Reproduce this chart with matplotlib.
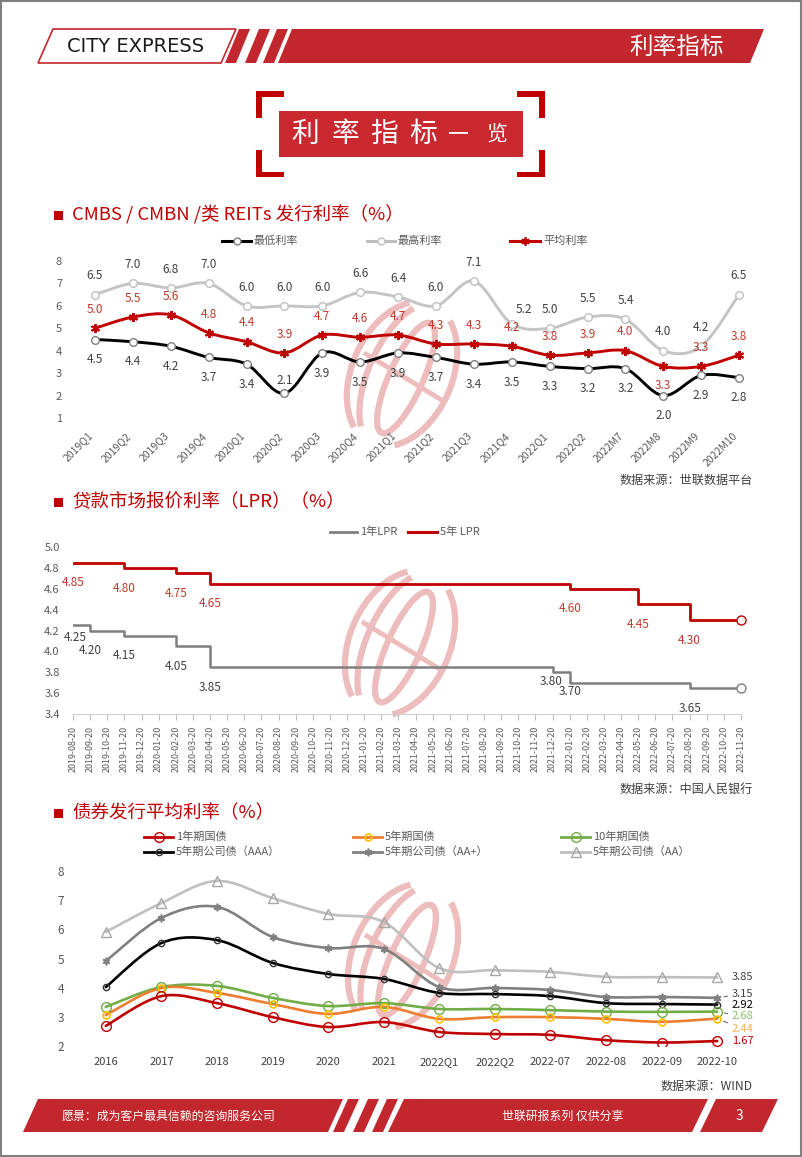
import matplotlib
matplotlib.use('Agg')
import matplotlib.pyplot as plt
import numpy as np
from matplotlib.path import Path
from matplotlib.patches import PathPatch, Polygon, Rectangle, Arc
from matplotlib.lines import Line2D
from matplotlib.ticker import FuncFormatter

plt.rcParams['font.family'] = ['Noto Sans CJK SC', 'DejaVu Sans']

# ---------------- data ----------------
# chart 1: CMBS / CMBN / REITs
cmbs_cats = ['2019Q1', '2019Q2', '2019Q3', '2019Q4', '2020Q1', '2020Q2', '2020Q3',
             '2020Q4', '2021Q1', '2021Q2', '2021Q3', '2021Q4', '2022Q1', '2022Q2',
             '2022M7', '2022M8', '2022M9', '2022M10']
cmbs_min = [4.5, 4.4, 4.2, 3.7, 3.4, 2.1, 3.9, 3.5, 3.9, 3.7, 3.4, 3.5, 3.3, 3.2, 3.2, 2.0, 2.9, 2.8]
cmbs_max = [6.5, 7.0, 6.8, 7.0, 6.0, 6.0, 6.0, 6.6, 6.4, 6.0, 7.1, 5.2, 5.0, 5.5, 5.4, 4.0, 4.2, 6.5]
cmbs_avg = [5.0, 5.5, 5.6, 4.8, 4.4, 3.9, 4.7, 4.6, 4.7, 4.3, 4.3, 4.2, 3.8, 3.9, 4.0, 3.3, 3.3, 3.8]

# chart 2: LPR
lpr_dates = ['2019-08-20', '2019-09-20', '2019-10-20', '2019-11-20', '2019-12-20',
             '2020-01-20', '2020-02-20', '2020-03-20', '2020-04-20', '2020-05-20',
             '2020-06-20', '2020-07-20', '2020-08-20', '2020-09-20', '2020-10-20',
             '2020-11-20', '2020-12-20', '2021-01-20', '2021-02-20', '2021-03-20',
             '2021-04-20', '2021-05-20', '2021-06-20', '2021-07-20', '2021-08-20',
             '2021-09-20', '2021-10-20', '2021-11-20', '2021-12-20', '2022-01-20',
             '2022-02-20', '2022-03-20', '2022-04-20', '2022-05-20', '2022-06-20',
             '2022-07-20', '2022-08-20', '2022-09-20', '2022-10-20', '2022-11-20']
lpr_1y = [4.25, 4.20, 4.20, 4.15, 4.15, 4.15, 4.05, 4.05, 3.85, 3.85,
          3.85, 3.85, 3.85, 3.85, 3.85, 3.85, 3.85, 3.85, 3.85, 3.85,
          3.85, 3.85, 3.85, 3.85, 3.85, 3.85, 3.85, 3.85, 3.80, 3.70,
          3.70, 3.70, 3.70, 3.70, 3.70, 3.70, 3.65, 3.65, 3.65, 3.65]
lpr_5y = [4.85, 4.85, 4.85, 4.80, 4.80, 4.80, 4.75, 4.75, 4.65, 4.65,
          4.65, 4.65, 4.65, 4.65, 4.65, 4.65, 4.65, 4.65, 4.65, 4.65,
          4.65, 4.65, 4.65, 4.65, 4.65, 4.65, 4.65, 4.65, 4.65, 4.60,
          4.60, 4.60, 4.60, 4.45, 4.45, 4.45, 4.30, 4.30, 4.30, 4.30]

# chart 3: bond issuance
bond_cats = ['2016', '2017', '2018', '2019', '2020', '2021', '2022Q1', '2022Q2',
             '2022-07', '2022-08', '2022-09', '2022-10']
gov_1y = [2.19, 3.21, 2.97, 2.49, 2.15, 2.32, 1.98, 1.91, 1.88, 1.70, 1.62, 1.67]
gov_5y = [2.56, 3.49, 3.32, 2.94, 2.60, 2.84, 2.43, 2.49, 2.49, 2.43, 2.33, 2.44]
gov_10y = [2.84, 3.52, 3.56, 3.15, 2.87, 2.97, 2.77, 2.77, 2.73, 2.68, 2.67, 2.68]
corp_aaa = [3.52, 5.03, 5.13, 4.35, 3.97, 3.80, 3.32, 3.28, 3.21, 2.97, 2.94, 2.92]
corp_aap = [4.41, 5.89, 6.27, 5.24, 4.86, 4.83, 3.52, 3.49, 3.42, 3.18, 3.18, 3.15]
corp_aa = [5.41, 6.40, 7.16, 6.57, 6.03, 5.75, 4.17, 4.10, 4.04, 3.87, 3.86, 3.85]

RED = '#C00000'
BAND = '#C1272D'
TXT = '#595959'


def smooth_path(x, y):
    # Excel-like smoothed line as cubic bezier through the points
    pts = np.column_stack([x, y]).astype(float)
    n = len(pts)
    verts = [pts[0]]
    codes = [Path.MOVETO]
    for i in range(n - 1):
        p0 = pts[i - 1] if i > 0 else pts[i]
        p1 = pts[i]
        p2 = pts[i + 1]
        p3 = pts[i + 2] if i + 2 < n else pts[i + 1]
        verts += [p1 + (p2 - p0) / 6, p2 - (p3 - p1) / 6, p2]
        codes += [Path.CURVE4] * 3
    return Path(verts, codes)


def smooth_line(ax, x, y, color, lw):
    ax.add_patch(PathPatch(smooth_path(x, y), fill=False, edgecolor=color, lw=lw,
                           capstyle='round', joinstyle='round', zorder=2))


W, H = 802, 1157
fig = plt.figure(figsize=(W / 100, H / 100), dpi=100)

page = fig.add_axes([0, 0, 1, 1])
page.set_xlim(0, W)
page.set_ylim(H, 0)
page.axis('off')


def box(l, t, r, b):
    return [l / W, 1 - b / H, (r - l) / W, (b - t) / H]


def para(x0, x1, top, bot, slant, color, **kw):
    page.add_patch(Polygon([(x0 + slant, top), (x1 + slant, top), (x1, bot), (x0, bot)],
                           closed=True, facecolor=color, **kw))


# page border
page.add_patch(Rectangle((0.8, 0.8), W - 1.6, H - 1.6, fill=False, edgecolor='#808080', lw=1.5))

# header
para(38, 221, 29, 63, 15, 'white', edgecolor=BAND, lw=1.2)
page.text(136, 47, 'CITY EXPRESS', ha='center', va='center', fontsize=14,
          family=['Liberation Sans Narrow', 'DejaVu Sans'], color='#1a1a1a')
for xs in [225, 245, 263]:
    para(xs, xs + 11, 29, 63, 14, BAND, lw=0)
para(278, 750, 29, 63, 14, BAND, lw=0)
page.text(677, 47, '利率指标', ha='center', va='center', fontsize=17, color='white')

# title box with brackets
page.add_patch(Rectangle((279, 111), 244, 46, facecolor='#C8282E', lw=0))
for xc, dx in [(256, 1), (545, -1)]:
    for yc, dy in [(91, 1), (177, -1)]:
        page.add_patch(Rectangle((xc, yc), 28 * dx, 5.5 * dy, facecolor=RED, lw=0))
        page.add_patch(Rectangle((xc, yc), 6 * dx, 27 * dy, facecolor=RED, lw=0))
for ch, cx, fs in [('利', 305, 20), ('率', 345, 20), ('指', 384, 20), ('标', 423, 20),
                   ('一', 458, 15), ('览', 497, 15)]:
    page.text(cx, 134, ch, ha='center', va='center', fontsize=fs, color='white')


def logo(cx, cy):
    # pale globe watermark behind the charts
    kw = dict(color='#EDBDBD', lw=4.5, zorder=0.5, capstyle='butt')
    ang = 24
    page.add_patch(Arc((cx, cy), 100, 152, angle=ang, theta1=108, theta2=252, **kw))
    page.add_patch(Arc((cx, cy), 66, 148, angle=ang, theta1=104, theta2=256, **kw))
    page.add_patch(Arc((cx + 4, cy + 4), 34, 120, angle=ang, theta1=0, theta2=360, **kw))
    page.add_patch(Arc((cx, cy), 100, 152, angle=ang, theta1=-72, theta2=72, **kw))
    page.add_line(Line2D([cx - 36, cx + 38], [cy - 20, cy + 25], color='#EDBDBD',
                         lw=3.5, zorder=0.5))


def section(y, title):
    page.add_patch(Rectangle((54, y - 4.5), 9, 9, facecolor=RED, lw=0))
    page.text(72, y, title, ha='left', va='center', fontsize=13.3, color=RED)


def source(y, s):
    page.text(753, y, s, ha='right', va='center', fontsize=8.7, color='#404040')


def legend_item(x0, x1, y, label, color, lw=2, **mk):
    page.add_line(Line2D([x0, x1], [y, y], color=color, lw=lw))
    if mk:
        page.add_line(Line2D([(x0 + x1) / 2], [y], **mk))
    page.text(x1 + 3, y, label, ha='left', va='center', fontsize=8, color=TXT)


# ---------------- chart 1 ----------------
section(215, 'CMBS / CMBN /类 REITs 发行利率（%）')
logo(402, 374)
legend_item(222, 251, 241, '最低利率', 'black', lw=2.2, marker='o', ms=5,
            mfc='white', mec='#7F7F7F')
legend_item(367, 395, 241, '最高利率', '#BFBFBF', lw=2.2, marker='o', ms=5,
            mfc='white', mec='#BFBFBF')
legend_item(510, 540, 241, '平均利率', RED, lw=2.2, marker=(6, 2, 0), ms=6,
            mec=RED, mew=1.3)

ax1 = fig.add_axes(box(76, 261, 758, 418))
ax1.set_facecolor('none')
x1 = np.arange(len(cmbs_cats))
smooth_line(ax1, x1, cmbs_max, '#C4C4C4', 2.1)
smooth_line(ax1, x1, cmbs_avg, RED, 2.1)
smooth_line(ax1, x1, cmbs_min, 'black', 2.1)
ax1.plot(x1, cmbs_max, ls='none', marker='o', ms=5.5, mfc='white', mec='#BFBFBF', mew=1, zorder=3)
ax1.plot(x1, cmbs_min, ls='none', marker='o', ms=5.5, mfc='white', mec='#7F7F7F', mew=1, zorder=3)
ax1.plot(x1, cmbs_avg, ls='none', marker=(6, 2, 0), ms=6.5, mec=RED, mew=1.4, zorder=3)
ax1.set_xlim(-0.5, len(cmbs_cats) - 0.5)
ax1.set_ylim(1, 8)
ax1.set_yticks(range(1, 9))
ax1.set_xticks(x1)
ax1.set_xticklabels(cmbs_cats, rotation=45, ha='right')
ax1.tick_params(axis='x', length=0, pad=9, labelsize=7.5, labelcolor=TXT)
ax1.tick_params(axis='y', length=0, pad=10, labelsize=8, labelcolor=TXT)
for s in ax1.spines.values():
    s.set_visible(False)

for i in range(len(cmbs_cats)):
    dx, dy = (9, 10) if i == 11 else (0, 13.5)
    ax1.annotate(f'{cmbs_max[i]:.1f}', (i, cmbs_max[i]), xytext=(dx, dy),
                 textcoords='offset points', ha='center', va='center', fontsize=8.5, color='#404040')
    dy = -14 if i == 15 else 13.5
    ax1.annotate(f'{cmbs_avg[i]:.1f}', (i, cmbs_avg[i]), xytext=(0, dy),
                 textcoords='offset points', ha='center', va='center', fontsize=8.5, color='#C0392B')
    dy = 9 if i == 5 else -14.5
    ax1.annotate(f'{cmbs_min[i]:.1f}', (i, cmbs_min[i]), xytext=(0, dy),
                 textcoords='offset points', ha='center', va='center', fontsize=8.5, color='#404040')
source(480, '数据来源：世联数据平台')

# ---------------- chart 2 ----------------
section(502, '贷款市场报价利率（LPR）（%）')
logo(400, 643)
legend_item(330, 357, 532, '1年LPR', '#7F7F7F', lw=2)
legend_item(408, 437, 532, '5年 LPR', RED, lw=2.2)

ax2 = fig.add_axes(box(73, 547, 741, 714))
ax2.set_facecolor('none')
x2 = np.arange(len(lpr_dates))
ax2.plot(x2, lpr_1y, drawstyle='steps-post', color='#7F7F7F', lw=1.8, zorder=2)
ax2.plot(x2, lpr_5y, drawstyle='steps-post', color=RED, lw=2, zorder=2)
ax2.plot(x2[-1:], lpr_1y[-1:], ls='none', marker='o', ms=6.5, mfc='white', mec='#7F7F7F',
         mew=1, clip_on=False, zorder=3)
ax2.plot(x2[-1:], lpr_5y[-1:], ls='none', marker='o', ms=6.5, mfc='white', mec=RED,
         mew=1, clip_on=False, zorder=3)
ax2.set_xlim(0, len(lpr_dates) - 1)
ax2.set_ylim(3.4, 5.0)
ax2.set_yticks(np.arange(3.4, 5.01, 0.2))
ax2.yaxis.set_major_formatter(FuncFormatter(lambda v, p: f'{v:.1f}'))
ax2.set_xticks(x2)
ax2.set_xticklabels(lpr_dates, rotation=90, ha='center', va='top')
ax2.tick_params(axis='x', length=4, color='#BFBFBF', pad=4.5, labelsize=6.4, labelcolor=TXT)
ax2.tick_params(axis='y', length=0, pad=9.5, labelsize=8, labelcolor=TXT)
for k in ['top', 'right', 'left']:
    ax2.spines[k].set_visible(False)
ax2.spines['bottom'].set_color('#D0D0D0')

near_1y = {0: (1.5, -8.5), 28: (-1, -7), 29: (0, -6)}
for series, color, near in [(lpr_5y, '#C0392B', {}), (lpr_1y, '#404040', near_1y)]:
    for i in range(len(series)):
        if i == 0 or series[i] != series[i - 1]:
            dx, dy = near.get(i, (0, -14.5))
            ax2.annotate(f'{series[i]:.2f}', (i, series[i]), xytext=(dx, dy),
                         textcoords='offset points', ha='center', va='center',
                         fontsize=8.5, color=color)
source(789, '数据来源：中国人民银行')

# ---------------- chart 3 ----------------
section(813, '债券发行平均利率（%）')
logo(403, 956)
bond_series = [
    ('1年期国债', gov_1y, RED, dict(marker='o', ms=7, mfc='none', mec=RED, mew=1)),
    ('5年期国债', gov_5y, '#ED7D31', dict(marker='o', ms=5, mfc='none', mec='#FFC000', mew=1.2)),
    ('10年期国债', gov_10y, '#70AD47', dict(marker='o', ms=7, mfc='none', mec='#70AD47', mew=1)),
    ('5年期公司债（AAA）', corp_aaa, 'black', dict(marker='o', ms=4.5, mfc='none', mec='#333333', mew=1)),
    ('5年期公司债（AA+）', corp_aap, '#808080', dict(marker=(6, 2, 0), ms=5.5, mec='#808080', mew=1.2)),
    ('5年期公司债（AA）', corp_aa, '#BFBFBF', dict(marker='^', ms=7, mfc='none', mec='#A6A6A6', mew=1)),
]
leg_x = [144, 353, 561]
leg_y = [837, 852]
for k, (name, vals, color, mk) in enumerate(bond_series):
    x0 = leg_x[k % 3]
    legend_item(x0, x0 + 29, leg_y[k // 3], name, color, lw=2, **mk)

ax3 = fig.add_axes(box(78, 871, 745, 1046))
ax3.set_facecolor('none')
x3 = np.arange(len(bond_cats))
for name, vals, color, mk in bond_series[::-1]:
    smooth_line(ax3, x3, vals, color, 1.9)
    ax3.plot(x3, vals, ls='none', zorder=3, **mk)
ax3.set_xlim(-0.5, len(bond_cats) - 0.5)
ax3.set_ylim(1.5, 7.5)
ax3.set_yticks(np.arange(1.5, 7.6, 1))
ax3.yaxis.set_major_formatter(FuncFormatter(lambda v, p: f'{int(np.floor(v + 0.5))}'))
ax3.set_xticks(x3)
ax3.set_xticklabels(bond_cats, va='baseline')
ax3.tick_params(axis='x', length=0, pad=13.5, labelsize=8, labelcolor='#404040')
ax3.tick_params(axis='y', length=0, pad=10, labelsize=8.5, labelcolor=TXT)
for s in ax3.spines.values():
    s.set_visible(False)

end_label = [
    (corp_aa, '#404040', 0),
    (corp_aap, '#404040', 3),
    (corp_aaa, 'black', 0),
    (gov_10y, '#8DC06C', -3.5),
    (gov_5y, '#F4B35A', -7.5),
    (gov_1y, RED, 0),
]
last = len(bond_cats) - 1
for vals, color, dy in end_label:
    ax3.annotate(f'{vals[-1]:.2f}', (last, vals[-1]), xytext=(10.5, dy),
                 textcoords='offset points', ha='left', va='center', fontsize=8, color=color,
                 arrowprops=dict(arrowstyle='-', color='#595959', lw=0.7, shrinkA=1, shrinkB=5)
                 if dy != 0 else None)
source(1086, '数据来源：WIND')

# footer
para(23, 328, 1099, 1132, 15, BAND, lw=0)
for xs in [333, 353, 372]:
    para(xs, xs + 11, 1099, 1132, 15, BAND, lw=0)
para(388, 692, 1099, 1132, 16, BAND, lw=0)
para(700, 762, 1099, 1132, 16, BAND, lw=0)
page.text(168, 1116, '愿景：成为客户最具信赖的咨询服务公司', ha='center', va='center',
          fontsize=8.6, color='white')
page.text(563, 1116, '世联研报系列 仅供分享', ha='center', va='center', fontsize=8.6, color='white')
page.text(739, 1116, '3', ha='center', va='center', fontsize=10, color='white')

fig.savefig('out.png', dpi=100)
